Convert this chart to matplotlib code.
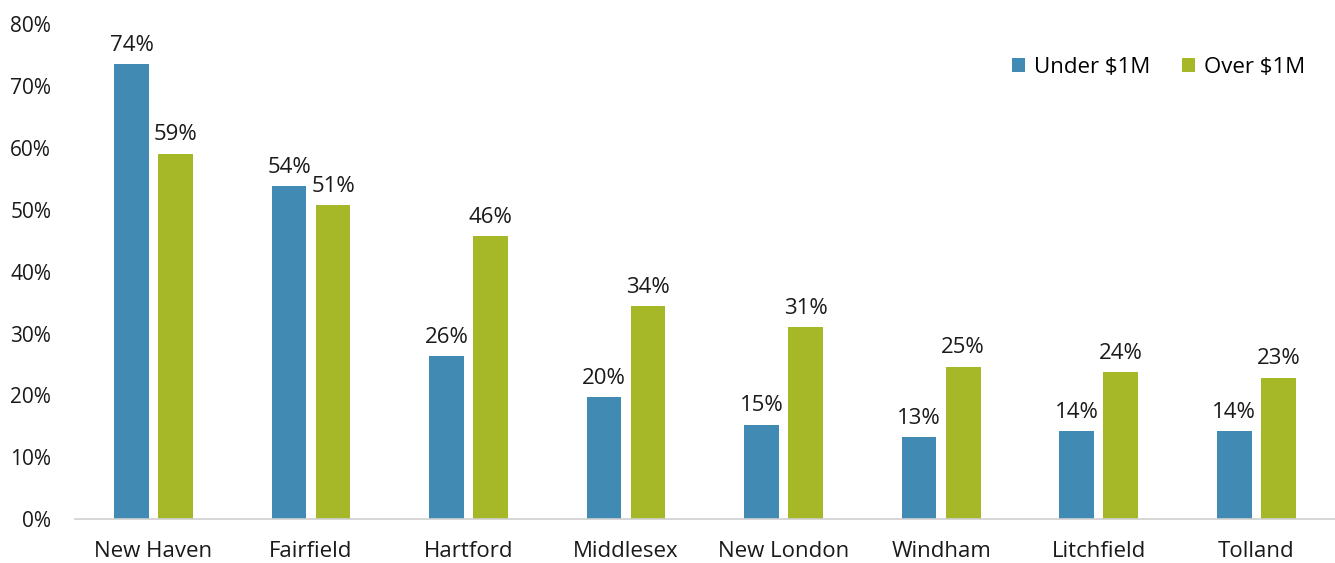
import matplotlib.pyplot as plt
import numpy as np

plt.rcParams['font.family'] = ['Open Sans', 'DejaVu Sans']

counties = ['New Haven', 'Fairfield', 'Hartford', 'Middlesex', 'New London',
            'Windham', 'Litchfield', 'Tolland']
under_1m = [73.5, 53.8, 26.3, 19.7, 15.2, 13.2, 14.2, 14.2]
over_1m = [59.0, 50.7, 45.7, 34.4, 31.0, 24.6, 23.7, 22.8]

blue = '#418AB3'
green = '#A6B727'

fig = plt.figure(figsize=(13.35, 5.63), dpi=100)
ax = fig.add_axes([0.056, 0.078, 0.944, 0.879])

x = np.arange(len(counties))
w = 0.22
off = 0.14
b1 = ax.bar(x - off, under_1m, w, color=blue, label='Under $1M')
b2 = ax.bar(x + off, over_1m, w, color=green, label='Over $1M')

for bars, vals in ((b1, under_1m), (b2, over_1m)):
    for rect, v in zip(bars, vals):
        ax.text(rect.get_x() + rect.get_width() / 2, v + 1.4, f'{v:.0f}%',
                ha='center', va='bottom', fontsize=16, color='#1a1a1a')

ax.set_xlim(-0.5, len(counties) - 0.5)
ax.set_ylim(0, 80)
ax.set_yticks(range(0, 81, 10))
ax.set_yticklabels([f'{t}%' for t in range(0, 81, 10)])
ax.set_xticks(x)
ax.set_xticklabels(counties)
ax.tick_params(axis='both', length=0, labelsize=16, colors='#1a1a1a')
ax.tick_params(axis='x', pad=16)
ax.tick_params(axis='y', pad=17, labelsize=15)
for s in ('top', 'right', 'left'):
    ax.spines[s].set_visible(False)
ax.spines['bottom'].set_color('#d0d0d0')
ax.spines['bottom'].set_linewidth(1.2)

ax.legend(loc='upper right', bbox_to_anchor=(0.992, 0.975), ncol=2, frameon=False,
          fontsize=16, handlelength=0.6, handleheight=0.6, handletextpad=0.4,
          columnspacing=1.4)

fig.savefig('out.png', dpi=100)
